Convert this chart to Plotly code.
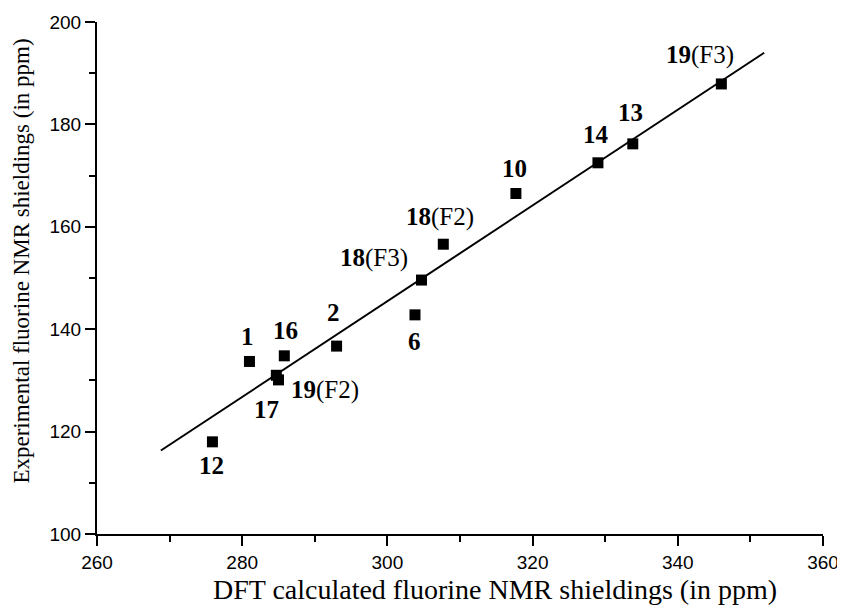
import plotly.graph_objects as go

# Data: DFT calculated vs experimental 19F NMR shieldings (ppm)
labels_num = ["1", "16", "19", "17", "12", "2", "6", "18", "18", "10", "14", "13", "19"]
labels_sfx = ["", "", "(F2)", "", "", "", "", "(F3)", "(F2)", "", "", "", "(F3)"]
dft_x = [281.0, 285.8, 285.0, 284.7, 275.9, 293.0, 303.8, 304.7, 307.7, 317.7, 329.0, 333.8, 346.0]
exp_y = [133.7, 134.8, 130.1, 131.0, 118.0, 136.7, 142.8, 149.6, 156.6, 166.5, 172.5, 176.2, 187.9]

# Fitted regression line end points
fit_x = [268.8, 351.9]
fit_y = [116.3, 194.0]

x_ticks = [260, 280, 300, 320, 340, 360]
y_ticks = [100, 120, 140, 160, 180, 200]

x_title = "DFT calculated fluorine NMR shieldings (in ppm)"
y_title = "Experimental fluorine NMR shieldings (in ppm)"

# label placement (pixel offsets, style only)
lab_dx = [-2, 1, 10, -10, -1, -3, 0, -12, -3, -1, -2, -2, -21]
lab_dy = [25, 25, -10, -34, -24, 34, -27, 22, 27, 25, 28, 31, 29]
lab_anchor = ["center", "center", "left", "center", "center", "center", "center",
              "right", "center", "center", "center", "center", "center"]

fig = go.Figure()
fig.add_trace(go.Scatter(x=fit_x, y=fit_y, mode="lines",
                         line=dict(color="black", width=2), showlegend=False,
                         hoverinfo="skip"))
fig.add_trace(go.Scatter(x=dft_x, y=exp_y, mode="markers",
                         marker=dict(symbol="square", size=11, color="black",
                                     line=dict(width=0)),
                         showlegend=False))

for i in range(len(dft_x)):
    fig.add_annotation(x=dft_x[i], y=exp_y[i], xref="x", yref="y",
                       text="<b>%s</b>%s" % (labels_num[i], labels_sfx[i]),
                       showarrow=False, xshift=lab_dx[i], yshift=lab_dy[i],
                       xanchor=lab_anchor[i], yanchor="middle",
                       font=dict(family="Liberation Serif", size=25, color="black"))

# axis titles
fig.add_annotation(text=x_title, xref="paper", yref="paper", x=0.548, y=-0.108,
                   xanchor="center", yanchor="middle", showarrow=False,
                   font=dict(family="Liberation Serif", size=28, color="black"))
fig.add_annotation(text=y_title, xref="paper", yref="paper", x=-0.104, y=0.533,
                   xanchor="center", yanchor="middle", showarrow=False, textangle=-90,
                   font=dict(family="Liberation Serif", size=23, color="black"))

axis_common = dict(showline=True, linecolor="black", linewidth=2,
                   ticks="outside", ticklen=10, tickwidth=2, tickcolor="black",
                   showgrid=False, zeroline=False, mirror=False,
                   tickfont=dict(family="Liberation Sans", size=19, color="black"),
                   minor=dict(ticks="outside", ticklen=6, tickwidth=2,
                              tickcolor="black", dtick=10))

fig.update_xaxes(range=[260, 360], tickvals=x_ticks, **axis_common)
fig.update_yaxes(range=[100, 200], tickvals=y_ticks, **axis_common)

# page body adds an 8px offset, so margins are shifted accordingly
fig.update_layout(width=845, height=611,
                  margin=dict(l=89, r=30, t=14, b=85, autoexpand=False),
                  plot_bgcolor="white", paper_bgcolor="white")

fig.write_html("out.html")
